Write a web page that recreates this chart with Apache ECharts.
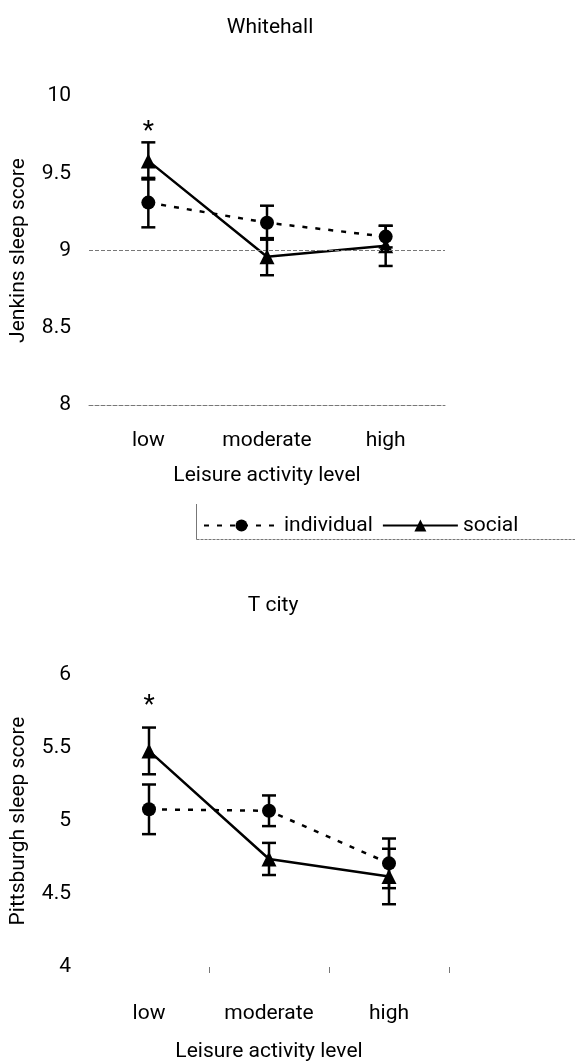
<!DOCTYPE html>
<html>
<head>
<meta charset="utf-8">
<script src="https://cdn.jsdelivr.net/npm/echarts@6/dist/echarts.min.js"></script>
<style>
  html, body { margin: 0; padding: 0; background: #fff; }
  #main { width: 575px; height: 1063px; }
</style>
</head>
<body>
<div id="main"></div>
<script>
var levels = ['low', 'moderate', 'high'];

// Whitehall (Jenkins sleep score)
var whIndividual = [9.31, 9.18, 9.09];
var whIndividualSe = [0.16, 0.11, 0.07];
var whSocial = [9.58, 8.96, 9.03];
var whSocialSe = [0.12, 0.12, 0.13];
var whSig = [true, false, false];

// T city (Pittsburgh sleep score)
var tcIndividual = [5.08, 5.07, 4.71];
var tcIndividualSe = [0.17, 0.105, 0.17];
var tcSocial = [5.48, 4.74, 4.62];
var tcSocialSe = [0.16, 0.11, 0.19];
var tcSig = [true, false, false];

var whTicks = [8, 8.5, 9, 9.5, 10];
var tcTicks = [4, 4.5, 5, 5.5, 6];

var font = 'Roboto, Arial, sans-serif';
var fs = 21;

function errData(mean, se) {
    return mean.map(function (m, i) {
        return [i, m - se[i], m + se[i]];
    });
}

function errSeries(mean, se, sig, idx, starGap) {
    return {
        type: 'custom',
        xAxisIndex: idx,
        yAxisIndex: idx,
        z: 5,
        data: errData(mean, se),
        renderItem: function (params, api) {
            var lo = api.coord([api.value(0), api.value(1)]);
            var hi = api.coord([api.value(0), api.value(2)]);
            var cap = 7;
            var st = { stroke: '#000', lineWidth: 2.5 };
            var kids = [
                { type: 'line', shape: { x1: lo[0], y1: lo[1], x2: hi[0], y2: hi[1] }, style: st },
                { type: 'line', shape: { x1: lo[0] - cap, y1: lo[1], x2: lo[0] + cap, y2: lo[1] }, style: st },
                { type: 'line', shape: { x1: hi[0] - cap, y1: hi[1], x2: hi[0] + cap, y2: hi[1] }, style: st }
            ];
            if (sig && sig[params.dataIndex]) {
                kids.push({
                    type: 'text',
                    style: {
                        text: '*', x: hi[0], y: hi[1] - starGap,
                        fontSize: 26, fontFamily: font, fill: '#000',
                        align: 'center', verticalAlign: 'top'
                    }
                });
            }
            return { type: 'group', children: kids };
        }
    };
}

function lineSeries(name, data, dashed, symbol, idx) {
    return {
        name: name,
        type: 'line',
        xAxisIndex: idx,
        yAxisIndex: idx,
        data: data,
        symbol: symbol,
        symbolSize: symbol === 'circle' ? 14 : 15,
        itemStyle: { color: '#000' },
        lineStyle: { color: '#000', width: 2.5, type: dashed ? [5, 8] : 'solid' },
        z: 4
    };
}

var chart = echarts.init(document.getElementById('main'));

var option = {
    animation: false,
    textStyle: { fontFamily: font },
    title: [
        { text: 'Whitehall', left: 265, top: 12, textAlign: 'center',
          textStyle: { fontSize: fs, fontWeight: 'normal', color: '#000', fontFamily: font } },
        { text: 'T city', left: 268, top: 590, textAlign: 'center',
          textStyle: { fontSize: fs, fontWeight: 'normal', color: '#000', fontFamily: font } }
    ],
    legend: {
        data: ['individual', 'social'],
        left: 198,
        top: 510,
        itemWidth: 75,
        itemHeight: 15,
        itemGap: 9,
        textStyle: { fontSize: fs, color: '#000', fontFamily: font }
    },
    grid: [
        { left: 86, width: 359, top: 96, height: 309 },
        { left: 86, width: 363, top: 675, height: 305 }
    ],
    xAxis: [
        {
            type: 'category', gridIndex: 0, data: levels,
            name: 'Leisure activity level', nameLocation: 'middle', nameGap: 60,
            nameTextStyle: { fontSize: fs, color: '#000' },
            axisLine: { lineStyle: { color: '#777', width: 1, type: 'dashed' } },
            axisTick: { inside: true, length: 6, lineStyle: { color: '#777' },
                        interval: function (i) { return i === 2; } },
            axisLabel: { fontSize: fs, color: '#000', margin: 25 }
        },
        {
            type: 'category', gridIndex: 1, data: levels,
            name: 'Leisure activity level', nameLocation: 'middle', nameGap: 74,
            nameTextStyle: { fontSize: fs, color: '#000' },
            axisLine: { show: false },
            axisTick: { show: true, length: 6, lineStyle: { color: '#777' },
                        interval: function (i) { return i >= 1; } },
            axisLabel: { fontSize: fs, color: '#000', margin: 36 }
        }
    ],
    yAxis: [
        {
            type: 'value', gridIndex: 0, min: whTicks[0], max: whTicks[whTicks.length - 1], interval: 0.5,
            name: 'Jenkins sleep score', nameLocation: 'middle', nameGap: 60,
            nameTextStyle: { fontSize: fs, color: '#000' },
            axisLine: { show: false }, axisTick: { show: false },
            splitLine: { show: false },
            axisLabel: { fontSize: fs, color: '#000', margin: 18 }
        },
        {
            type: 'value', gridIndex: 1, min: tcTicks[0], max: tcTicks[tcTicks.length - 1], interval: 0.5,
            name: 'Pittsburgh sleep score', nameLocation: 'middle', nameGap: 60,
            nameTextStyle: { fontSize: fs, color: '#000' },
            axisLine: { show: false }, axisTick: { show: false },
            splitLine: { show: false },
            axisLabel: { fontSize: fs, color: '#000', margin: 18 }
        }
    ],
    graphic: [
        { type: 'line', shape: { x1: 196.5, y1: 504, x2: 196.5, y2: 539.5 }, style: { stroke: '#777', lineWidth: 1 } },
        { type: 'line', shape: { x1: 196.5, y1: 539.5, x2: 575, y2: 539.5 }, style: { stroke: '#777', lineWidth: 1, lineDash: [3, 1] } }
    ],
    series: [
        Object.assign(lineSeries('individual', whIndividual, true, 'circle', 0), {
            markLine: {
                silent: true, symbol: 'none', label: { show: false },
                lineStyle: { color: '#777', width: 1, type: 'dashed' },
                data: [{ yAxis: 9 }]
            }
        }),
        lineSeries('social', whSocial, false, 'triangle', 0),
        errSeries(whIndividual, whIndividualSe, null, 0),
        errSeries(whSocial, whSocialSe, whSig, 0, 23),
        lineSeries('individual', tcIndividual, true, 'circle', 1),
        lineSeries('social', tcSocial, false, 'triangle', 1),
        errSeries(tcIndividual, tcIndividualSe, null, 1),
        errSeries(tcSocial, tcSocialSe, tcSig, 1, 34)
    ]
};

chart.setOption(option);
</script>
</body>
</html>
